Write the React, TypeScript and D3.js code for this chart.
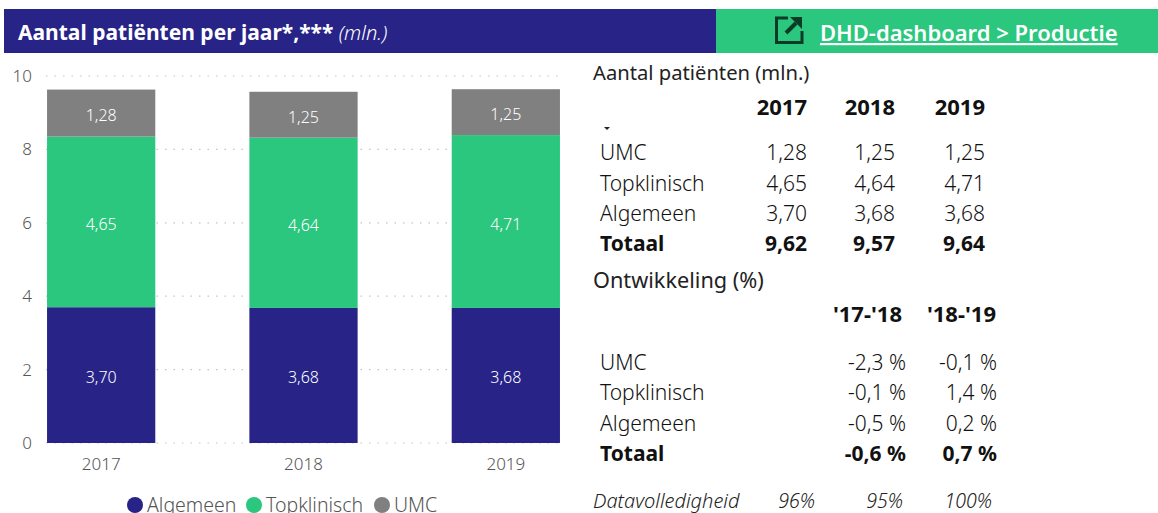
import React, { useEffect, useRef } from 'react';
import * as d3 from 'd3';

const years = ['2017', '2018', '2019'];
const seriesNames = ['Algemeen', 'Topklinisch', 'UMC'];
const algemeen = [3.70, 3.68, 3.68];
const topklinisch = [4.65, 4.64, 4.71];
const umc = [1.28, 1.25, 1.25];
const totaal = [9.62, 9.57, 9.64];
const yTicks = [0, 2, 4, 6, 8, 10];

const devPeriods = ["'17-'18", "'18-'19"];
const devUmc = ['-2,3 %', '-0,1 %'];
const devTop = ['-0,1 %', '1,4 %'];
const devAlg = ['-0,5 %', '0,2 %'];
const devTotaal = ['-0,6 %', '0,7 %'];
const volledigheid = ['96%', '95%', '100%'];

const NAVY = '#272387';
const GREEN = '#2BC77E';
const GREY = '#808080';
const colors = [NAVY, GREEN, GREY];
const FONT = '"Noto Sans", "Open Sans", sans-serif';
const fmt = (v: number) => v.toFixed(2).replace('.', ',');

export default function App() {
  const ref = useRef<SVGSVGElement>(null);

  useEffect(() => {
    const svg = d3.select(ref.current);
    svg.selectAll('*').remove();
    svg.style('font-family', FONT);

    // header
    svg.append('rect').attr('x', 4).attr('y', 9).attr('width', 712).attr('height', 44).attr('fill', NAVY);
    svg.append('rect').attr('x', 716).attr('y', 9).attr('width', 442).attr('height', 44).attr('fill', GREEN);
    const title = svg.append('text').attr('x', 18).attr('y', 40).attr('fill', 'white').attr('font-size', 21);
    title.append('tspan').attr('font-weight', 700).text('Aantal patiënten per jaar*,*** ');
    title.append('tspan').attr('font-style', 'italic').attr('font-size', 20).attr('font-weight', 300).text('(mln.)');

    // link icon
    svg.append('path')
      .attr('d', 'M788 18H776.5V42.5H802V31')
      .attr('fill', 'none').attr('stroke', '#0B3B26').attr('stroke-width', 3);
    svg.append('path').attr('d', 'M786 33L796 23').attr('stroke', '#0B3B26').attr('stroke-width', 4);
    svg.append('path').attr('d', 'M790 17H802V29Z').attr('fill', '#0B3B26');
    svg.append('text').attr('x', 820).attr('y', 41).attr('fill', 'white').attr('font-size', 22)
      .attr('font-weight', 600).attr('text-decoration', 'underline').text('DHD-dashboard > Productie');

    // chart
    const x = d3.scaleBand().domain(years).range([0, 607]).paddingInner(0.465).paddingOuter(0.2325);
    const y = d3.scaleLinear().domain([0, 10]).range([443, 76]);

    const grid = svg.append('g');
    grid.selectAll('line').data(yTicks).join('line')
      .attr('x1', 46).attr('x2', 562)
      .attr('y1', d => y(d)).attr('y2', d => y(d))
      .attr('stroke', '#C4C4C4').attr('stroke-width', 1.2).attr('stroke-dasharray', '1.5 7');

    const rows = years.map((yr, i) => ({ year: yr, Algemeen: algemeen[i], Topklinisch: topklinisch[i], UMC: umc[i] }));
    const stacked = d3.stack<any>().keys(seriesNames)(rows);
    stacked.forEach((layer, s) => {
      const g = svg.append('g');
      g.selectAll('rect').data(layer).join('rect')
        .attr('x', d => x(d.data.year)!)
        .attr('width', x.bandwidth())
        .attr('y', d => y(d[1]))
        .attr('height', d => y(d[0]) - y(d[1]))
        .attr('fill', colors[s]);
      g.selectAll('text').data(layer).join('text')
        .attr('x', d => x(d.data.year)! + x.bandwidth() / 2)
        .attr('y', d => (y(d[0]) + y(d[1])) / 2 + 8)
        .attr('text-anchor', 'middle')
        .attr('fill', 'white').attr('font-size', 16).attr('font-weight', 300)
        .text(d => fmt(d[1] - d[0]));
    });

    const yAxis = svg.append('g').attr('transform', 'translate(32,0)')
      .call(d3.axisLeft(y).tickValues(yTicks).tickSize(0).tickPadding(0));
    yAxis.select('.domain').remove();
    yAxis.selectAll('text').attr('fill', '#555').attr('font-size', 17).attr('font-family', FONT).attr('font-weight', 300);

    const xAxis = svg.append('g').attr('transform', 'translate(0,450)')
      .call(d3.axisBottom(x).tickSize(0).tickPadding(3));
    xAxis.select('.domain').remove();
    xAxis.selectAll('text').attr('fill', '#555').attr('font-size', 17).attr('font-family', FONT).attr('font-weight', 300)
      .attr('dy', '1em');

    // legend
    const legendX = [135, 254, 382];
    const legendText = [147, 266, 394];
    seriesNames.forEach((name, i) => {
      svg.append('circle').attr('cx', legendX[i]).attr('cy', 505).attr('r', 8).attr('fill', colors[i]);
      svg.append('text').attr('x', legendText[i]).attr('y', 512).attr('fill', '#555')
        .attr('font-size', 19.5).attr('font-weight', 300).text(name);
    });

    // tables
    const label = (t: string, lx: number, ly: number, o: any = {}) =>
      svg.append('text').attr('x', lx).attr('y', ly).attr('fill', o.fill || '#111')
        .attr('font-size', o.size || 20).attr('font-weight', o.weight || 400)
        .attr('font-style', o.style || 'normal').attr('text-anchor', o.anchor || 'start').text(t);

    label('Aantal patiënten (mln.)', 593, 80, { size: 20.2, fill: '#222' });
    const colRight = [807, 895, 985];
    years.forEach((yr, i) => label(yr, colRight[i], 115, { weight: 700, anchor: 'end', size: 22 }));
    svg.append('path').attr('d', 'M604 127H610L607 130Z').attr('fill', '#222');

    const rowNames = ['UMC', 'Topklinisch', 'Algemeen'];
    const rowVals = [umc, topklinisch, algemeen];
    const rowY = [160, 191, 221];
    rowNames.forEach((n, r) => {
      label(n, 600, rowY[r], { size: 21, weight: 300 });
      rowVals[r].forEach((v, i) => label(fmt(v), colRight[i], rowY[r], { anchor: 'end', size: 21, weight: 300 }));
    });
    label('Totaal', 600, 251, { weight: 700, size: 21 });
    totaal.forEach((v, i) => label(fmt(v), colRight[i], 251, { weight: 700, anchor: 'end', size: 21 }));

    label('Ontwikkeling (%)', 593, 288, { fill: '#222', size: 21.7 });
    const devRight = [906, 997];
    const devHead = [902, 996];
    devPeriods.forEach((p, i) => label(p, devHead[i], 322, { weight: 700, anchor: 'end', size: 22 }));
    const devRows = [devUmc, devTop, devAlg];
    const devY = [370, 400, 431];
    rowNames.forEach((n, r) => {
      label(n, 600, devY[r], { size: 21, weight: 300 });
      devRows[r].forEach((v, i) => label(v, devRight[i], devY[r], { anchor: 'end', size: 21, weight: 300 }));
    });
    label('Totaal', 600, 461, { weight: 700, size: 21 });
    devTotaal.forEach((v, i) => label(v, devRight[i], 461, { weight: 700, anchor: 'end', size: 21 }));

    label('Datavolledigheid', 593, 508, { style: 'italic', size: 20, fill: '#222', weight: 300 });
    const volRight = [815, 903, 992];
    volledigheid.forEach((v, i) => label(v, volRight[i], 508, { style: 'italic', size: 19.5, anchor: 'end', fill: '#222', weight: 300 }));
  }, []);

  return (
    <svg ref={ref} width={1158} height={513}
      style={{ position: 'fixed', left: 0, top: 0, background: 'white', display: 'block' }} />
  );
}
